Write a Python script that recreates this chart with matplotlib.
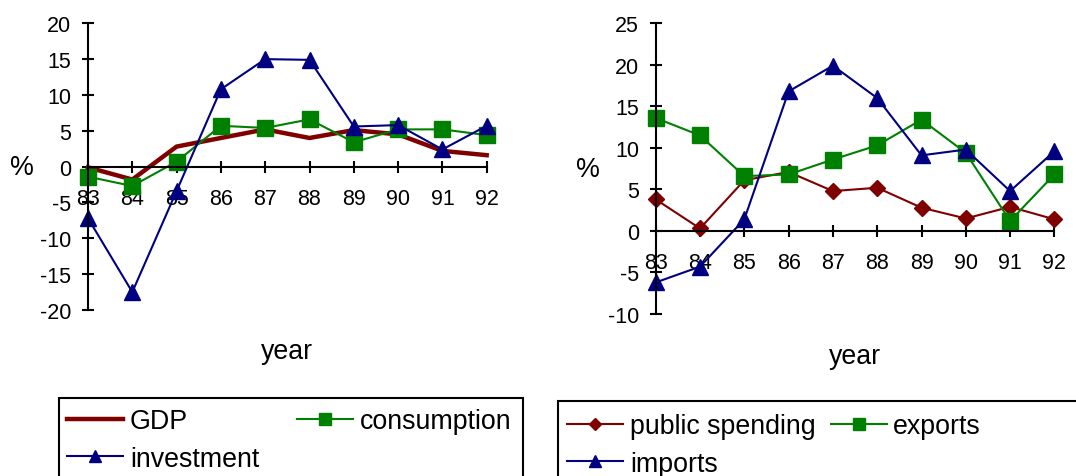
import matplotlib
matplotlib.use("Agg")
import matplotlib.pyplot as plt
from matplotlib.patches import Rectangle

plt.rcParams['font.family'] = ['Liberation Sans', 'DejaVu Sans']
plt.rcParams['axes.unicode_minus'] = False

years = [83, 84, 85, 86, 87, 88, 89, 90, 91, 92]
year_labels = [str(y) for y in years]

# growth rates, left panel
gdp = [-0.1, -1.8, 2.8, 4.0, 5.2, 4.0, 5.1, 4.5, 2.2, 1.6]
consumption = [-1.4, -2.7, 0.7, 5.7, 5.4, 6.6, 3.4, 5.2, 5.2, 4.4]
investment = [-7.2, -17.5, -3.4, 10.8, 15.0, 14.9, 5.6, 5.8, 2.4, 5.7]

# growth rates, right panel
public_spending = [3.8, 0.3, 6.1, 7.1, 4.8, 5.2, 2.8, 1.5, 2.9, 1.4]
exports = [13.6, 11.5, 6.6, 6.8, 8.6, 10.3, 13.4, 9.4, 1.2, 6.8]
imports = [-6.2, -4.3, 1.4, 16.8, 19.9, 16.0, 9.1, 9.8, 4.8, 9.6]

RED = '#800000'
GREEN = '#008000'
BLUE = '#000080'
W, H = 1076, 477
TEXT_SIZE = 19.3


def style_axes(ax, ylim, yticks):
    ax.set_xlim(years[0], years[-1])
    ax.set_ylim(*ylim)
    ax.set_yticks(yticks)
    ax.set_xticks(years)
    ax.set_xticklabels(year_labels)
    for s in ['top', 'right']:
        ax.spines[s].set_visible(False)
    ax.spines['bottom'].set_position(('data', 0))
    ax.spines['left'].set_linewidth(1.5)
    ax.spines['bottom'].set_linewidth(1.5)
    ax.tick_params(axis='both', direction='inout', length=9, width=1.5,
                   labelsize=15.5, colors='black')
    ax.tick_params(axis='x', pad=11)
    ax.tick_params(axis='y', pad=7.5)
    ax.set_xlabel('year', fontsize=TEXT_SIZE, va='center')
    ax.xaxis.set_label_coords(0.5, -0.143)
    ax.set_ylabel('%', fontsize=TEXT_SIZE, rotation=0, va='center', ha='center')
    ax.patch.set_visible(False)


fig = plt.figure(figsize=(W / 100, H / 100), dpi=100)

ax1 = fig.add_axes([88 / W, 1 - 311 / H, 398.7 / W, 286.7 / H])
l_gdp, = ax1.plot(years, gdp, color=RED, lw=3.2, clip_on=False)
l_con, = ax1.plot(years, consumption, color=GREEN, lw=1.5, marker='s',
                  ms=11, mec=GREEN, clip_on=False)
l_inv, = ax1.plot(years, investment, color=BLUE, lw=1.5, marker='^',
                  ms=11, mec=BLUE, clip_on=False)
style_axes(ax1, (-20, 20), range(-20, 21, 5))
ax1.yaxis.set_label_coords(-0.166, 0.5)

ax2 = fig.add_axes([655.7 / W, 1 - 315 / H, 398.7 / W, 290.7 / H])
l_pub, = ax2.plot(years, public_spending, color=RED, lw=1.5, marker='D',
                  ms=8, mec=RED, clip_on=False)
l_exp, = ax2.plot(years, exports, color=GREEN, lw=1.5, marker='s',
                  ms=11, mec=GREEN, clip_on=False)
l_imp, = ax2.plot(years, imports, color=BLUE, lw=1.5, marker='^',
                  ms=11, mec=BLUE, clip_on=False)
style_axes(ax2, (-10, 25), range(-10, 26, 5))
ax2.yaxis.set_label_coords(-0.170, 0.5)

# legends below each panel, boxes run off the bottom edge
leg_kw = dict(loc='upper left', ncol=2, frameon=False, fontsize=TEXT_SIZE,
              handlelength=2.09, handletextpad=0.24, borderpad=0.15,
              labelspacing=0.42, markerscale=0.75)
fig.legend([l_gdp, l_inv, l_con], ['GDP', 'investment', 'consumption'],
           bbox_to_anchor=(50 / W, 1 - 392 / H), columnspacing=1.41,
           **leg_kw)
fig.legend([l_pub, l_imp, l_exp], ['public spending', 'imports', 'exports'],
           bbox_to_anchor=(550 / W, 1 - 397 / H), columnspacing=0.56,
           **leg_kw)

fig.add_artist(Rectangle((58.6 / W, -0.05), 464.4 / W, 0.05 + 1 - 399 / H,
                         transform=fig.transFigure, fill=False, lw=1.5,
                         ec='black', clip_on=False))
fig.add_artist(Rectangle((558 / W, -0.05), 0.6, 0.05 + 1 - 402 / H,
                         transform=fig.transFigure, fill=False, lw=1.5,
                         ec='black', clip_on=False))

fig.savefig('out.png', dpi=100, facecolor='white')
